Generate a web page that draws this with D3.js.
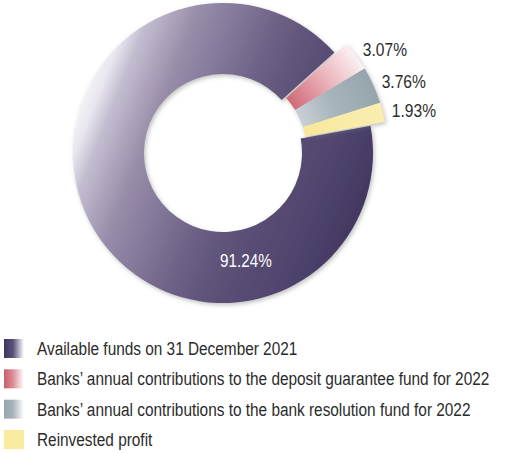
<!DOCTYPE html>
<html>
<head>
<meta charset="utf-8">
<script src="https://cdn.jsdelivr.net/npm/d3@7/dist/d3.min.js"></script>
<style>
  html, body { margin: 0; padding: 0; background: #fff; }
  svg { display: block; }
  text { font-family: "Liberation Sans", Arial, Helvetica, sans-serif; }
</style>
</head>
<body>
<script>
// Fund structure shares (%)
const categories = [
  "Available funds on 31 December 2021",
  "Banks\u2019 annual contributions to the deposit guarantee fund for 2022",
  "Banks\u2019 annual contributions to the bank resolution fund for 2022",
  "Reinvested profit"
];
const shares = [91.24, 3.07, 3.76, 1.93];
const shareLabels = ["91.24%", "3.07%", "3.76%", "1.93%"];

const W = 509, H = 453;
const cx = 223, cy = 153;
const innerR = 79, outerR = 150, smallOuterR = 160, explode = 5;
const startDeg = 79.5;

const svg = d3.select("body").append("svg")
  .attr("width", W).attr("height", H)
  .attr("viewBox", `0 0 ${W} ${H}`);

svg.append("rect").attr("width", W).attr("height", H).attr("fill", "#fff");

const defs = svg.append("defs");

// soft shadow under the ring and slices
const shadow = defs.append("filter").attr("id", "shadow")
  .attr("x", "-20%").attr("y", "-20%").attr("width", "140%").attr("height", "140%");
shadow.append("feDropShadow")
  .attr("dx", 1.5).attr("dy", 2).attr("stdDeviation", 2)
  .attr("flood-color", "#777").attr("flood-opacity", 0.45);

// main ring gradient (chart-local coordinates): light from the upper left, dark to the lower right
const lightDir = Math.atan(0.4);
const gMain = defs.append("linearGradient").attr("id", "gMain")
  .attr("gradientUnits", "userSpaceOnUse")
  .attr("x1", -outerR * Math.cos(lightDir)).attr("y1", -outerR * Math.sin(lightDir))
  .attr("x2", outerR * Math.cos(lightDir)).attr("y2", outerR * Math.sin(lightDir));
[[0, "#f3f2f6"], [0.04, "#e9e7ef"], [0.1, "#c4bdd0"], [0.25, "#978ca8"], [0.37, "#83789a"],
 [0.5, "#6e6286"], [0.62, "#5f5379"], [0.75, "#564a72"], [0.9, "#4c416c"], [1, "#42375f"]]
  .forEach(([o, c]) => gMain.append("stop").attr("offset", o).attr("stop-color", c));

const pie = d3.pie().sort(null).value(d => d)
  .startAngle(startDeg * Math.PI / 180)
  .endAngle(startDeg * Math.PI / 180 + 2 * Math.PI);
const arcs = pie(shares);

const mainArc = d3.arc().innerRadius(innerR).outerRadius(outerR);
const smallArc = d3.arc().innerRadius(innerR).outerRadius(smallOuterR);

// the three small slices are pulled out together along their common bisector
const midSmall = (arcs[1].startAngle + arcs[3].endAngle) / 2;
const ex = Math.sin(midSmall) * explode, ey = -Math.cos(midSmall) * explode;

// radial gradients for the small slices (inner colour -> outer colour)
const sliceGrad = [
  null,
  ["#cf6a77", "#e7a9b0", "#fbf1f3"],
  ["#c7d0d5", "#a7b4bb", "#96a4ac"],
  ["#f7e79a", "#f8eba6", "#faeeb0"]
];
sliceGrad.forEach((c, i) => {
  if (!c) return;
  const g = defs.append("radialGradient").attr("id", "gSlice" + i)
    .attr("gradientUnits", "userSpaceOnUse")
    .attr("cx", 0).attr("cy", 0).attr("r", smallOuterR)
    .attr("fx", 0).attr("fy", 0);
  g.append("stop").attr("offset", innerR / smallOuterR).attr("stop-color", c[0]);
  g.append("stop").attr("offset", 0.72).attr("stop-color", c[1]);
  g.append("stop").attr("offset", 1).attr("stop-color", c[2]);
});

const chart = svg.append("g").attr("transform", `translate(${cx},${cy})`);

chart.append("path")
  .attr("d", mainArc(arcs[0]))
  .attr("fill", "url(#gMain)")
  .attr("filter", "url(#shadow)");

const small = chart.append("g")
  .attr("transform", `translate(${ex},${ey})`)
  .attr("filter", "url(#shadow)");
arcs.slice(1).forEach((a, k) => {
  small.append("path")
    .attr("d", smallArc(a))
    .attr("fill", `url(#gSlice${k + 1})`);
});

// condensed text: regular face squeezed horizontally
function condensedText(parent, x, y, str, size, sx, fill, anchor) {
  return parent.append("g")
    .attr("transform", `translate(${x},${y}) scale(${sx},1)`)
    .append("text")
    .attr("dy", "0.35em")
    .attr("font-size", size)
    .attr("fill", fill)
    .attr("text-anchor", anchor || "start")
    .text(str);
}

// value labels next to the small slices
const labelR = 174;
arcs.slice(1).forEach((a, k) => {
  const m = (a.startAngle + a.endAngle) / 2;
  condensedText(chart, Math.sin(m) * labelR, -Math.cos(m) * labelR,
    shareLabels[k + 1], 17.5, 0.89, "#2b2b2b");
});

const mainLabelAngle = 168 * Math.PI / 180, mainLabelR = 110;
condensedText(chart, Math.sin(mainLabelAngle) * mainLabelR, -Math.cos(mainLabelAngle) * mainLabelR,
  shareLabels[0], 17.5, 0.87, "#ffffff", "middle");

// legend
const swatch = [
  ["#3f3560", "#5a5078", "#ffffff"],
  ["#c95d6d", "#dc8d97", "#ffffff"],
  ["#97a5ad", "#a8b4ba", "#ffffff"],
  ["#f8ea9f", "#f8ea9f", "#f8ea9f"]
];
swatch.forEach((c, i) => {
  const g = defs.append("linearGradient").attr("id", "gLeg" + i)
    .attr("x1", 0).attr("x2", 1).attr("y1", 0).attr("y2", 0);
  g.append("stop").attr("offset", 0).attr("stop-color", c[0]);
  g.append("stop").attr("offset", 0.45).attr("stop-color", c[1]);
  g.append("stop").attr("offset", 1).attr("stop-color", c[2]);
});

const legY = d3.scalePoint().domain(categories).range([348.5, 439.5]);
const legend = svg.append("g");
categories.forEach((name, i) => {
  const y = legY(name);
  legend.append("rect")
    .attr("x", 4).attr("y", y - 9.5)
    .attr("width", 20).attr("height", 19)
    .attr("fill", `url(#gLeg${i})`);
  condensedText(legend, 37, y, name, 19, 0.81, "#2b2b2b");
});
</script>
</body>
</html>
